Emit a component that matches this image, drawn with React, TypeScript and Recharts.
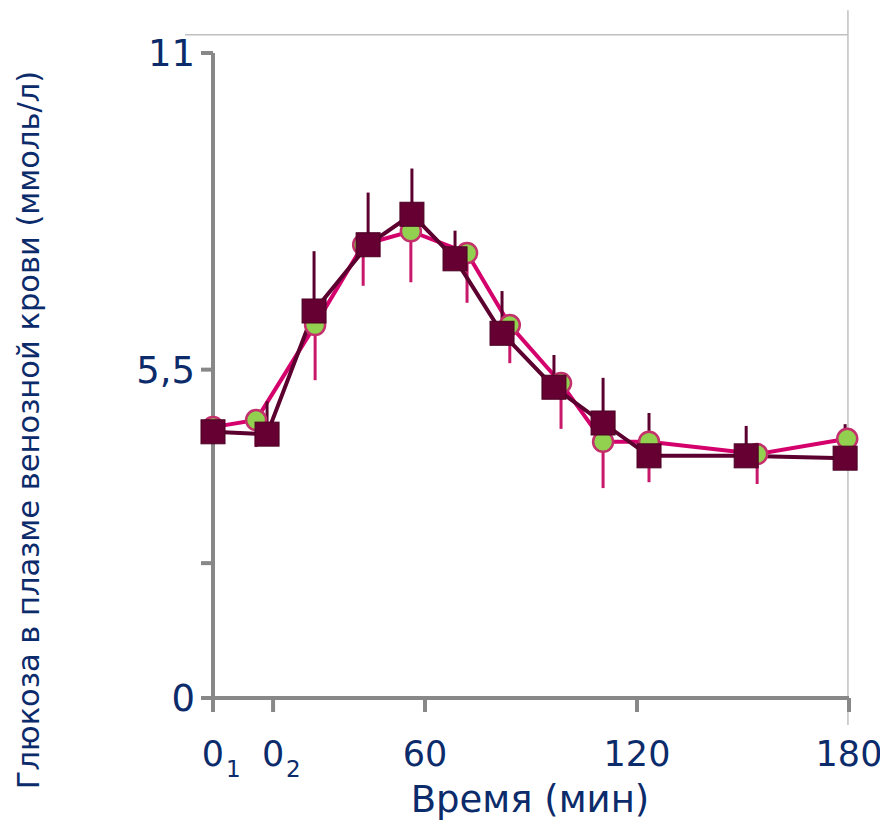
import React from 'react';
import { LineChart, Line, XAxis, YAxis, ErrorBar, ReferenceLine } from 'recharts';

// Series 1: circles (pink line, green markers), error bars downward
const CIRCLE_T = [0, 12.2, 28.9, 42.5, 56, 71.9, 84, 98.5, 110.4, 123.4, 154, 179.5];
const CIRCLE_V = [4.62, 4.74, 6.36, 7.73, 7.96, 7.59, 6.36, 5.37, 4.37, 4.37, 4.16, 4.42];
const CIRCLE_ERR = [0.3, 0.46, 0.94, 0.7, 0.87, 0.85, 0.65, 0.78, 0.79, 0.69, 0.51, 0.25];

// Series 2: squares (maroon), error bars upward
const SQUARE_T = [0, 15.3, 28.6, 43.9, 56.3, 68.5, 81.8, 96.5, 110.4, 123.4, 150.9, 178.9];
const SQUARE_V = [4.54, 4.5, 6.6, 7.73, 8.25, 7.49, 6.22, 5.3, 4.69, 4.13, 4.13, 4.09];
const SQUARE_ERR = [0.49, 0.56, 1.02, 0.89, 0.78, 0.48, 0.72, 0.55, 0.77, 0.73, 0.51, 0.58];

const X_TICKS = [0, 17, 60, 120, 180];
const X_TICK_LABELS = ['0|1', '0|2', '60', '120', '180'];
const Y_TICKS = [0, 2.3, 5.6, 11];
const Y_TICK_LABELS = ['0', '', '5,5', '11'];

const circleData = CIRCLE_T.map((t, i) => ({ t, v: CIRCLE_V[i], err: [CIRCLE_ERR[i], 0] }));
const squareData = SQUARE_T.map((t, i) => ({ t, v: SQUARE_V[i], err: [0, SQUARE_ERR[i]] }));

const NAVY = '#0c2b6b';
const AXIS = '#888888';
const FONT = '"DejaVu Sans", sans-serif';

const CircleDot = (props: any) => {
  const { cx, cy } = props;
  if (cx == null || cy == null) return null;
  return <circle cx={cx} cy={cy} r={10} fill="#92d050" stroke="#c4306c" strokeWidth={2.5} />;
};

const SquareDot = (props: any) => {
  const { cx, cy } = props;
  if (cx == null || cy == null) return null;
  return <rect x={cx - 12} y={cy - 12} width={24} height={24} fill="#660033" stroke="#4a0022" strokeWidth={1} />;
};

const XTick = (props: any) => {
  const { x, y, payload } = props;
  const idx = X_TICKS.indexOf(payload.value);
  const label = idx >= 0 ? X_TICK_LABELS[idx] : String(payload.value);
  if (label.includes('|')) {
    const [main, sub] = label.split('|');
    return (
      <g>
        <text x={x} y={y + 46} textAnchor="middle" fill={NAVY} fontSize={35} fontFamily={FONT}>{main}</text>
        <text x={x + 13} y={y + 57} textAnchor="start" fill={NAVY} fontSize={23} fontFamily={FONT}>{sub}</text>
      </g>
    );
  }
  return (
    <text x={x} y={y + 46} textAnchor="middle" fill={NAVY} fontSize={35} fontFamily={FONT}>{label}</text>
  );
};

const YLabel = () => (
  <text
    x={20}
    y={422}
    transform="rotate(-90 20 422)"
    textAnchor="middle"
    dominantBaseline="central"
    fill={NAVY}
    fontSize={30.5}
    fontFamily={FONT}
  >
    Глюкоза в плазме венозной крови (ммоль/л)
  </text>
);

const XLabel = () => (
  <text x={522} y={804} textAnchor="middle" fill={NAVY} fontSize={37} fontFamily={FONT}>
    Время (мин)
  </text>
);

export default function App() {
  return (
    <LineChart width={880} height={818} margin={{ top: 45, right: 39, bottom: 28, left: 0 }}>
      <XAxis
        dataKey="t"
        type="number"
        domain={[0, 180]}
        ticks={X_TICKS}
        tick={XTick}
        tickSize={14}
        tickMargin={8}
        height={100}
        axisLine={{ stroke: AXIS, strokeWidth: 4 }}
        tickLine={{ stroke: AXIS, strokeWidth: 4 }}
        allowDuplicatedCategory={false}
        label={{ content: XLabel }}
      />
      <YAxis
        type="number"
        domain={[0, 11]}
        ticks={Y_TICKS}
        width={205}
        tickSize={12}
        tickMargin={6}
        tickFormatter={(v: number) => {
          const i = Y_TICKS.indexOf(v);
          return i >= 0 ? Y_TICK_LABELS[i] : '';
        }}
        tick={{ fill: NAVY, fontSize: 37, fontFamily: FONT }}
        axisLine={{ stroke: AXIS, strokeWidth: 4 }}
        tickLine={{ stroke: AXIS, strokeWidth: 4 }}
        label={{ content: YLabel }}
      />
      <ReferenceLine
        segment={[{ x: -7.9, y: 11.31 }, { x: 179.7, y: 11.31 }]}
        stroke="#c0c0c0"
        strokeWidth={1.5}
        ifOverflow="visible"
      />
      <ReferenceLine
        segment={[{ x: 179.7, y: 11.73 }, { x: 179.7, y: -0.46 }]}
        stroke="#c0c0c0"
        strokeWidth={1.5}
        ifOverflow="visible"
      />
      <Line
        data={circleData}
        dataKey="v"
        type="linear"
        stroke="#d4006c"
        strokeWidth={4}
        dot={<CircleDot />}
        activeDot={false}
        isAnimationActive={false}
      >
        <ErrorBar dataKey="err" direction="y" width={0} stroke="#c8186a" strokeWidth={3} />
      </Line>
      <Line
        data={squareData}
        dataKey="v"
        type="linear"
        stroke="#5c0030"
        strokeWidth={4}
        dot={<SquareDot />}
        activeDot={false}
        isAnimationActive={false}
      >
        <ErrorBar dataKey="err" direction="y" width={0} stroke="#5c0030" strokeWidth={3} />
      </Line>
    </LineChart>
  );
}
